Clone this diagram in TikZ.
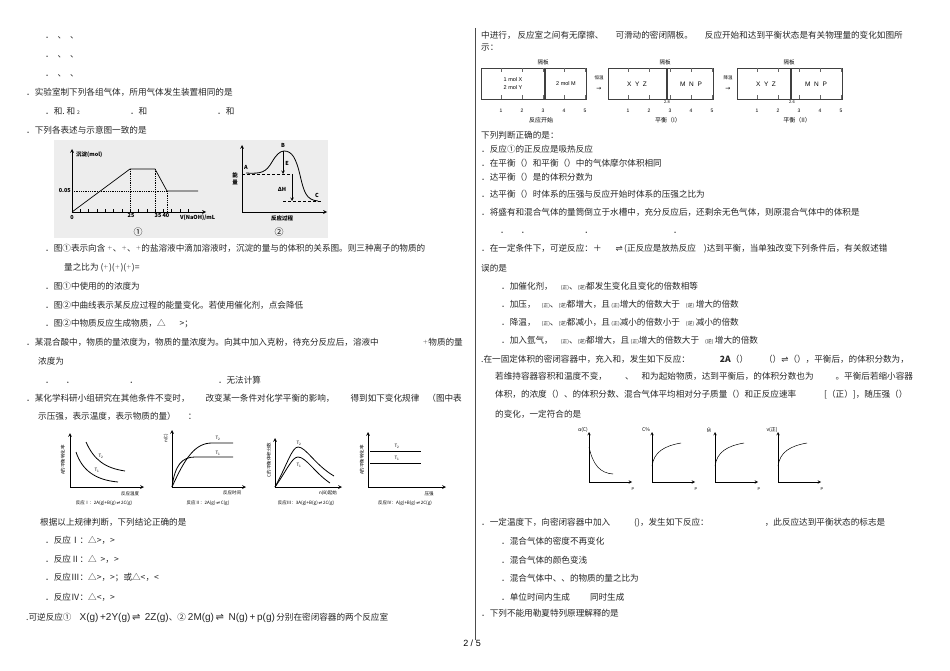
\documentclass[tikz,border=0pt]{standalone}
\usepackage{fontspec}
\setmainfont{Noto Sans CJK SC}
\newfontfamily\dv{DejaVu Sans}
\newfontfamily\ls{Liberation Sans}
\begin{document}
\begin{tikzpicture}[x=1pt,y=-1pt,
  tx/.style={anchor=west,inner sep=0pt,font=\fontsize{8.6}{10}\selectfont,text=black!85},
  sm/.style={inner sep=0pt,font=\fontsize{5.5}{6}\selectfont},
  tn/.style={inner sep=0pt,font=\fontsize{4.5}{5}\selectfont},
  ax/.style={->,>=stealth,line width=0.7pt},
  cv/.style={line width=0.8pt},
  bx/.style={draw,line width=0.9pt}]
\useasboundingbox (0,0) rectangle (950,671);
\fill[white] (0,0) rectangle (950,671);
\draw[line width=0.5pt,black!70] (475,28) -- (475,640);
% left column text
\node[tx] at (45,38) {．\ \ 、\ \ 、};
\node[tx] at (45,57) {．\ \ 、\ \ 、};
\node[tx] at (45,76) {．\ \ 、\ \ 、};
\node[tx] at (26,92) {．实验室制下列各组气体，所用气体发生装置相同的是};
\node[tx] at (45,111) {．和.\ 和\ {\tiny 2}\hspace{50pt}．和\hspace{70pt}．和};
\node[tx] at (26,130) {．下列各表述与示意图一致的是};
% figure box
\fill[black!7] (54,140) rectangle (328,238);
\draw[ax] (72,212) -- (72,149);
\draw[ax] (72,212) -- (206,212);
\foreach \i in {1,...,14} \draw (72+\i*8.3,212) -- (72+\i*8.3,209);
\draw[line width=0.7pt] (72,212) -- (130,169) -- (155,169) -- (167,191) -- (198,191);
\draw[densely dotted,line width=0.8pt] (72,191) -- (167,191) (130,169) -- (130,212) (155,169) -- (155,212) (167,191) -- (167,212);
\node[sm,anchor=west] at (76,155) {\bfseries 沉淀(mol)};
\node[sm,anchor=east] at (71,191) {\bfseries 0.05};
\node[sm] at (72,218) {\bfseries 0};
\node[sm] at (131,216) {\bfseries 25};
\node[sm] at (162,216) {\bfseries 35 40};
\node[sm,anchor=west] at (180,218) {\bfseries\itshape V\upshape(NaOH)/mL};
\node[inner sep=0pt,font=\fontsize{9}{9}\selectfont] at (138,232) {①};
\draw[ax] (242,212) -- (242,145);
\draw[ax] (242,212) -- (327,212);
\draw[line width=0.8pt] (246,173) .. controls (262,174) and (266,172) .. (272,162) .. controls (276,155) and (280,151) .. (284,151) .. controls (292,151) and (296,158) .. (300,175) .. controls (304,192) and (306,200) .. (318,201);
\draw[densely dashed,line width=0.6pt] (242,174) -- (292,174) (283,201) -- (322,201);
\draw[->,>=stealth,line width=0.6pt] (283,151) -- (283,174);
\draw[->,>=stealth,line width=0.6pt] (292,174) -- (292,201);
\node[sm] at (246,167) {\bfseries\itshape A};
\node[sm] at (283,145) {\bfseries\itshape B};
\node[sm] at (287,163) {\bfseries\itshape E};
\node[sm] at (282,189) {\bfseries Δ\itshape H};
\node[sm] at (317,195) {\bfseries\itshape C};
\node[sm,align=center] at (235,179) {\bfseries 能\\[1pt]\bfseries 量};
\node[sm] at (282,218) {\bfseries 反应过程};
\node[inner sep=0pt,font=\fontsize{9}{9}\selectfont] at (279,232) {②};
\node[tx] at (45,248) {．图①表示向含\ {\tiny$^+$}、{\tiny$^+$}、{\tiny$^+$}的盐溶液中滴加溶液时，沉淀的量与的体积的关系图。则三种离子的物质的};
\node[tx] at (64,268) {量之比为 ({\tiny$^+$})({\tiny$^+$})({\tiny$^+$})=};
\node[tx] at (45,286) {．图①中使用的的浓度为};
\node[tx] at (45,305) {．图②中曲线表示某反应过程的能量变化。若使用催化剂，点会降低};
\node[tx] at (45,324) {．图②中物质反应生成物质，△\hspace{14pt}>；};
\node[tx] at (26,342) {．某混合酸中，物质的量浓度为，物质的量浓度为。向其中加入克粉，待充分反应后，溶液中\hspace{44pt}{\tiny$^+$}物质的量};
\node[tx] at (38,361) {浓度为};
\node[tx] at (45,380) {．\hspace{12pt}．\hspace{55pt}．\hspace{80pt}．无法计算};
\node[tx] at (26,398) {．某化学科研小组研究在其他条件不变时，\hspace{16pt}改变某一条件对化学平衡的影响，\hspace{16pt}得到如下变化规律\hspace{8pt}（图中表};
\node[tx] at (38,416) {示压强，表示温度，表示物质的量）\hspace{12pt}：};
% four graphs
\begin{scope}[line width=0.7pt]
\draw[ax] (70,487) -- (70,433); \draw[ax] (70,487) -- (144,487);
\draw[cv] (86,442) .. controls (94,460) and (105,468) .. (125,471);
\draw[cv] (76,452) .. controls (82,470) and (95,480) .. (118,482);
\node[tn] at (101,456) {\itshape T\textsubscript{2}};
\node[tn] at (97,470) {\itshape T\textsubscript{1}};
\node[tn,rotate=90] at (63,460) {A的平衡转化率};
\node[tn] at (130,494) {反应温度};
\node[tn] at (104,503) {反应Ⅰ：2A(g)+B(g)\,{\dv ⇌}\,2C(g)};
\draw[ax] (172,487) -- (172,430); \draw[ax] (172,487) -- (246,487);
\draw[cv] (172,487) .. controls (185,458) and (195,443) .. (212,443) -- (233,443);
\draw[cv] (172,487) .. controls (175,465) and (182,457) .. (195,457) -- (233,457);
\node[tn] at (218,438) {\itshape T\textsubscript{2}};
\node[tn] at (218,453) {\itshape T\textsubscript{1}};
\node[tn,rotate=90] at (166,438) {n(C)};
\node[tn] at (232,493) {反应时间};
\node[tn] at (208,503) {反应Ⅱ：2A(g)\,{\dv ⇌}\,C(g)};
\draw[ax] (275,487) -- (275,438); \draw[ax] (275,487) -- (342,487);
\draw[cv] (275,487) .. controls (287,465) and (292,447) .. (298,447) .. controls (306,447) and (315,465) .. (334,476);
\draw[cv] (275,487) .. controls (287,470) and (292,457) .. (298,457) .. controls (306,457) and (315,473) .. (330,483);
\node[tn] at (299,443) {\itshape T\textsubscript{2}};
\node[tn] at (299,465) {\itshape T\textsubscript{1}};
\node[tn,rotate=90] at (269,460) {C的平衡体积分数};
\node[tn] at (328,493) {n(B)起始};
\node[tn] at (306,503) {反应Ⅲ：3A(g)+B(g)\,{\dv ⇌}\,2C(g)};
\draw[ax] (368,487) -- (368,432); \draw[ax] (368,487) -- (446,487);
\draw[cv] (370,451) -- (421,451); \draw[cv] (370,463) -- (421,463);
\node[tn] at (397,446) {\itshape T\textsubscript{2}};
\node[tn] at (397,458) {\itshape T\textsubscript{1}};
\node[tn,rotate=90] at (362,460) {A的平衡转化率};
\node[tn] at (429,494) {压强};
\node[tn] at (405,503) {反应Ⅳ：A(g)+B(g)\,{\dv ⇌}\,2C(g)};
\end{scope}
\node[tx] at (40,522) {根据以上规律判断，下列结论正确的是};
\node[tx] at (45,540) {．反应Ⅰ：△>，>};
\node[tx] at (45,559) {．反应Ⅱ：△\ \ >，>};
\node[tx] at (45,578) {．反应Ⅲ：△>，>；或△<，<};
\node[tx] at (45,597) {．反应Ⅳ：△<，>};
\node[tx] at (26,618) {.可逆反应①\hspace{8pt}{\ls\fontsize{10}{10}\selectfont X(g)\,+2Y(g)\,{\dv ⇌}\,\ 2Z(g)}、②\ {\ls\fontsize{10}{10}\selectfont 2M(g)\,{\dv ⇌}\,\ N(g)\,+\,p(g)}\,分别在密闭容器的两个反应室};
\node[inner sep=0pt,font=\ls\fontsize{9}{9}\selectfont] at (472,643) {2 / 5};
% right column
\node[tx] at (481,35) {中进行，\ 反应室之间有无摩擦、\hspace{12pt}可滑动的密闭隔板。\hspace{12pt}反应开始和达到平衡状态是有关物理量的变化如图所};
\node[tx] at (481,48) {示：};
% partition diagrams
\foreach \a/\d/\n in {481/545/0,608/667/1,737/791/2}{
  \draw[line width=0.8pt,black!75] (\a,68) rectangle (\a+105,99);
  \draw[line width=1.1pt,black!75] (\d,68) -- (\d,99);
  \foreach \k in {0,...,4} {
    \draw[black!60,line width=0.4pt] (\a+20+\k*21,68) -- (\a+20+\k*21,72) (\a+20+\k*21,99) -- (\a+20+\k*21,95);
    \pgfmathtruncatemacro{\kk}{\k+1}
    \node[tn,font=\ls\fontsize{5}{5}\selectfont] at (\a+20+\k*21,111) {\kk};}
  \node[tn,font=\fontsize{5.5}{6}\selectfont] at (\d-2,62) {隔板};
}
\node[tn,font=\ls\fontsize{5.5}{6}\selectfont,align=center] at (513,84) {1 mol X\\[2pt]2 mol Y};
\node[tn,font=\ls\fontsize{5.5}{6}\selectfont] at (566,84) {2 mol M};
\node[tn,font=\ls\fontsize{6.5}{6}\selectfont] at (637,84) {X\ \ Y\ \ Z};
\node[tn,font=\ls\fontsize{6.5}{6}\selectfont] at (691,84) {M\ \ N\ \ P};
\node[tn,font=\ls\fontsize{6.5}{6}\selectfont] at (766,84) {X\ \ Y\ \ Z};
\node[tn,font=\ls\fontsize{6.5}{6}\selectfont] at (816,84) {M\ \ N\ \ P};
\node[tn,font=\ls\fontsize{4}{4}\selectfont] at (667,102) {2.8};
\node[tn,font=\ls\fontsize{4}{4}\selectfont] at (792,102) {2.6};
\node[tn] at (599,78) {恒温};
\node[tn,font=\dv\fontsize{6}{6}\selectfont] at (599,89) {→};
\node[tn] at (728,78) {降温};
\node[tn,font=\dv\fontsize{6}{6}\selectfont] at (728,89) {→};
\node[tn,font=\fontsize{6}{6}\selectfont] at (541,120) {反应开始};
\node[tn,font=\fontsize{6}{6}\selectfont] at (668,120) {平衡（I）};
\node[tn,font=\fontsize{6}{6}\selectfont] at (797,120) {平衡（II）};
\node[tx] at (481,135) {下列判断正确的是：};
\node[tx] at (481,149) {．反应①的正反应是吸热反应};
\node[tx] at (481,163) {．在平衡（）和平衡（）中的气体摩尔体积相同};
\node[tx] at (481,177) {．达平衡（）是的体积分数为};
\node[tx] at (481,194) {．达平衡（）时体系的压强与反应开始时体系的压强之比为};
\node[tx] at (481,212) {．将盛有和混合气体的量筒倒立于水槽中，充分反应后，还剩余无色气体，则原混合气体中的体积是};
\node[tx] at (500,233) {．\hspace{12pt}．\hspace{55pt}．\hspace{80pt}．};
\node[tx] at (481,249) {．在一定条件下，可逆反应：＋\hspace{14pt}{\dv ⇌}\,(正反应是放热反应\hspace{8pt})达到平衡，当单独改变下列条件后，有关叙述错};
\node[tx] at (481,268) {误的是};
\newcommand{\vz}{{\tiny(正)}}
\newcommand{\vn}{{\tiny(逆)}}
\node[tx] at (501,286) {．加催化剂，\hspace{8pt}\vz、\vn 都发生变化且变化的倍数相等};
\node[tx] at (501,304) {．加压，\hspace{6pt}\vz、\vn 都增大，且\,\vz 增大的倍数大于\hspace{6pt}\vn\,增大的倍数};
\node[tx] at (501,322) {．降温，\hspace{6pt}\vz、\vn 都减小，且\,\vz 减小的倍数小于\hspace{6pt}\vn\,减小的倍数};
\node[tx] at (501,340) {．加入氩气，\hspace{8pt}\vz、\vn 都增大，且\,\vz 增大的倍数大于\hspace{6pt}\vn\,增大的倍数};
\node[tx] at (481,359) {.在一固定体积的密闭容器中，充入和，发生如下反应：\hspace{30pt}{\bfseries 2A}（）\hspace{16pt}（）{\dv ⇌}（），平衡后，的体积分数为，};
\node[tx] at (495,376) {若维持容器容积和温度不变，\hspace{18pt}、\hspace{8pt}和为起始物质，达到平衡后，的体积分数也为\hspace{22pt}。平衡后若缩小容器};
\node[tx] at (495,395) {体积，的浓度（）、的体积分数、混合气体平均相对分子质量（）和正反应速率\hspace{28pt}[（正）]，随压强（）};
\node[tx] at (495,414) {的变化，一定符合的是};
% small graphs
\foreach \o/\l in {589/α(C),652/C\%,715/\={M},778/v(正)}{
  \draw[->,>=stealth,line width=0.5pt] (\o,482) -- (\o,432);
  \draw[->,>=stealth,line width=0.5pt] (\o,482) -- (\o+43,482);
  \node[tn,font=\fontsize{5}{5}\selectfont] at (\o-6,430) {\l};
  \node[tn,font=\ls\fontsize{4}{4}\selectfont] at (\o+44,489) {P};
}
\draw[line width=0.5pt] (589,447) .. controls (593,465) and (600,473) .. (613,474);
\foreach \o in {652,715,778} \draw[line width=0.5pt] (\o,466) .. controls (\o+2,452) and (\o+12,446) .. (\o+29,443);
\node[tx] at (481,523) {．一定温度下，向密闭容器中加入\hspace{24pt}()，发生如下反应：\hspace{56pt}，此反应达到平衡状态的标志是};
\node[tx] at (501,541) {．混合气体的密度不再变化};
\node[tx] at (501,560) {．混合气体的颜色变浅};
\node[tx] at (501,578) {．混合气体中、、的物质的量之比为};
\node[tx] at (501,597) {．单位时间内生成\hspace{20pt}同时生成};
\node[tx] at (481,613) {．下列不能用勒夏特列原理解释的是};
\end{tikzpicture}
\end{document}
